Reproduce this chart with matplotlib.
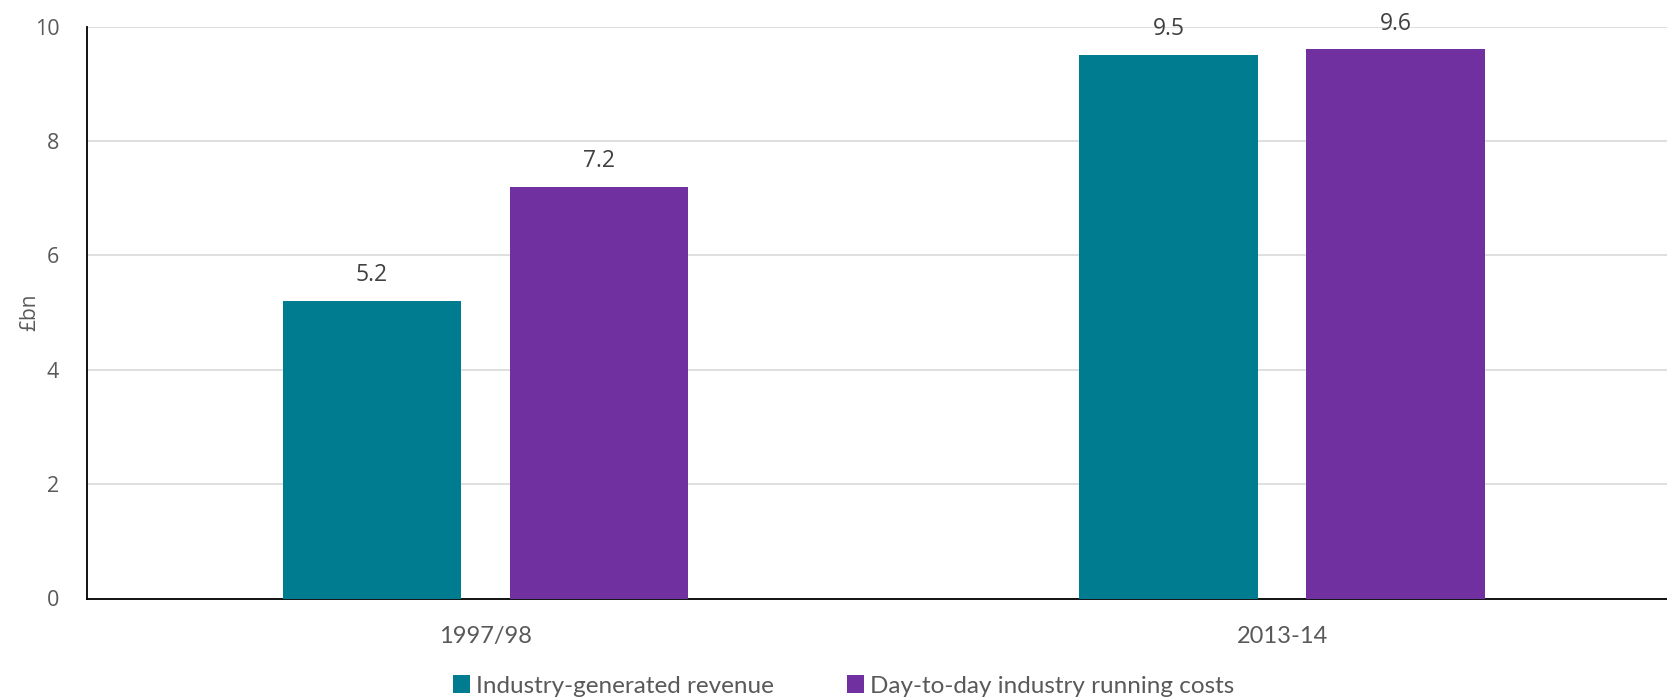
import matplotlib
matplotlib.use("Agg")
import matplotlib.pyplot as plt
import numpy as np

categories = ["1997/98", "2013-14"]
series_names = ["Industry-generated revenue", "Day-to-day industry running costs"]
revenue = [5.2, 9.5]
running_costs = [7.2, 9.6]
colors = ["#007C91", "#7030A0"]
y_ticks = [0, 2, 4, 6, 8, 10]

plt.rcParams["font.family"] = ["Open Sans", "DejaVu Sans"]

fig = plt.figure(figsize=(16.67, 6.98), dpi=100)
ax = fig.add_axes([87 / 1667, 1 - 598.5 / 698, (1667 - 87) / 1667, (598.5 - 26.6) / 698])

x = np.arange(len(categories))
width = 0.224
offset = 0.1425
bars1 = ax.bar(x - offset, revenue, width, color=colors[0], label=series_names[0], zorder=3)
bars2 = ax.bar(x + offset, running_costs, width, color=colors[1], label=series_names[1], zorder=3)

for bars, vals in ((bars1, revenue), (bars2, running_costs)):
    for b, v in zip(bars, vals):
        ax.annotate(f"{v:.1f}", (b.get_x() + b.get_width() / 2, v),
                    xytext=(0, 10), textcoords="offset points",
                    ha="center", va="bottom", fontsize=16.5, color="#404040")

ax.set_ylim(0, 10)
ax.set_xlim(-0.5, 1.483)
ax.set_yticks(y_ticks)
ax.set_yticklabels([str(t) for t in y_ticks], fontsize=15.5, color="#595959")
ax.set_xticks(x)
ax.set_xticklabels(categories, fontsize=17, color="#595959", family=["Lato", "DejaVu Sans"])
ax.tick_params(axis="both", length=0)
ax.tick_params(axis="y", pad=20)
ax.tick_params(axis="x", pad=20)

ax.grid(axis="y", color="#D9D9D9", linewidth=1.2, zorder=0)
for s in ("top", "right"):
    ax.spines[s].set_visible(False)
ax.spines["left"].set_color("black")
ax.spines["bottom"].set_color("black")
ax.spines["left"].set_linewidth(1.3)
ax.spines["bottom"].set_linewidth(1.3)

ax.set_ylabel("£bn", fontsize=15, color="#595959")
ax.yaxis.set_label_coords(-47 / 1580, 0.5)

leg = fig.legend(handles=[bars1, bars2], labels=series_names, loc="center",
                 bbox_to_anchor=(844 / 1667, 1 - 686 / 698), ncol=2, frameon=False,
                 handlelength=0.7, handleheight=0.7, handletextpad=0.25, columnspacing=3.0,
                 prop={"family": ["Lato", "DejaVu Sans"], "size": 17.5})
for t in leg.get_texts():
    t.set_color("#595959")

fig.savefig("out.png", dpi=100)
